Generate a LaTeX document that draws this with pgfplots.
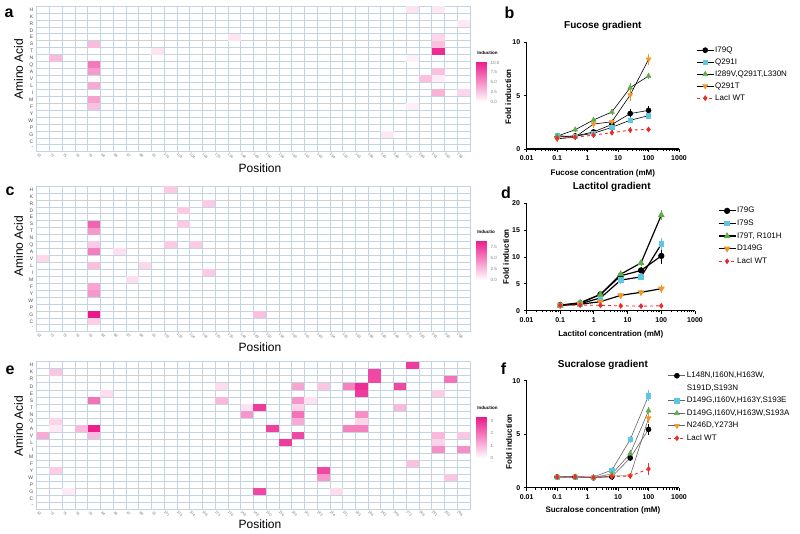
\documentclass[border=0pt]{standalone}
\usepackage{fontspec}
\setmainfont{Liberation Sans}
\setsansfont{Liberation Sans}
\usepackage{pgfplots}
\pgfplotsset{compat=1.18}
\definecolor{gridc}{RGB}{196,212,230}
\definecolor{cyanP}{RGB}{95,198,226}
\definecolor{greenP}{RGB}{95,172,72}
\definecolor{orangeP}{RGB}{243,150,42}
\definecolor{redP}{RGB}{232,45,45}
\pgfdeclareplotmark{hcell}{\pgfpathrectangle{\pgfqpoint{-6.4pt}{-3.5pt}}{\pgfqpoint{12.8pt}{7.0pt}}\pgfusepathqfill}
\pgfplotsset{
  hmap/.style={scale only axis, width=433.3pt,
    xmin=-0.5,xmax=33.5,ymin=-0.5,ymax=20.5,y dir=reverse,
    xtick={0,...,33},
    xticklabels={62,73,75,76,79,84,86,87,88,91,101,103,104,106,125,130,148,149,150,156,160,161,163,164,191,193,196,245,246,273,289,291,293,296},
    ytick={0,...,20},
    yticklabels={H,K,R,D,E,S,T,N,Q,A,V,L,I,M,F,Y,W,P,G,C,-},
    major tick length=0pt, minor tick length=0pt,
    minor xtick={-0.5,0.5,...,33.5}, minor ytick={-0.5,0.5,...,20.5},
    xminorgrids, yminorgrids,
    minor grid style={gridc,line width=0.6pt},
    axis line style={gridc,line width=0.6pt},
    axis on top,
    yticklabel style={font=\fontsize{5}{5}\selectfont, text=black!70},
    xticklabel style={font=\fontsize{3.6}{4}\selectfont, text=black!55, rotate=-40, anchor=center, yshift=-5.5pt},
    colormap={pk}{rgb255=(255,255,255) rgb255=(236,24,138)},
    point meta min=0,
  },
  cbar/.style={at={(parent axis.north east)}, anchor=north west, xshift=-2pt, width=10pt,
    axis line style={draw=none}, major tick length=0pt, tick style={draw=none},
    yticklabel style={font=\fontsize{4.5}{5}\selectfont, text=black!50, xshift=0.5pt,
      /pgf/number format/assume math mode=true},
    title style={font=\bfseries\fontsize{4.5}{5}\selectfont, at={(0,1)}, anchor=south west, inner sep=0.6pt},
  },
  hcells/.style={scatter, only marks, mark=hcell, scatter/use mapped color={draw=none, fill=mapped color}, point meta=explicit},
  prismax/.style={scale only axis, xmin=-2, xmax=3,
    xtick={-2,-1,0,1,2,3}, xticklabels={0.01,0.1,1,10,100,1000},
    minor xtick={-1.69897,-1.52288,-1.39794,-1.30103,-1.22185,-1.15490,-1.09691,-1.04576,
      -0.69897,-0.52288,-0.39794,-0.30103,-0.22185,-0.15490,-0.09691,-0.04576,
      0.30103,0.47712,0.60206,0.69897,0.77815,0.84510,0.90309,0.95424,
      1.30103,1.47712,1.60206,1.69897,1.77815,1.84510,1.90309,1.95424,
      2.30103,2.47712,2.60206,2.69897,2.77815,2.84510,2.90309,2.95424},
    xticklabel style={font=\bfseries\fontsize{7}{8}\selectfont},
    yticklabel style={font=\bfseries\fontsize{7}{8}\selectfont},
    xlabel style={font=\bfseries\fontsize{8}{9}\selectfont},
    ylabel style={font=\bfseries\fontsize{8}{9}\selectfont},
    title style={font=\bfseries\fontsize{10}{11}\selectfont},
    legend style={draw=none, fill=none, font=\fontsize{8}{9}\selectfont, anchor=north west, inner sep=0pt,
      nodes={inner sep=1pt, text height=6pt, text depth=2pt}, row sep=2pt},
    legend cell align=left,
    clip=false,
    axis line style={line width=1.1pt},
    tick style={black, line width=0.9pt}, major tick length=3pt, minor tick length=1.8pt,
  },
}
\begin{document}
\begin{tikzpicture}[x=1pt,y=1pt]
\path[use as bounding box] (0,0) rectangle (800,533);

% ---------- panel a ----------
\begin{axis}[hmap, at={(36.7pt,381.3pt)}, anchor=south west, height=145.7pt,
  point meta max=10.4, colorbar,
  colorbar style={cbar, yshift=-55pt, height=41pt, ytick={0,2.5,5,7.5,10},
    yticklabel style={/pgf/number format/fixed, /pgf/number format/fixed zerofill, /pgf/number format/precision=1},
    title={Induction}}]
\addplot[hcells] table[x=c,y=r,meta=v]{
c r v
1 7 3.0
4 5 3.0
4 8 6.0
4 9 4.5
4 11 3.8
4 13 4.2
4 14 2.8
9 6 1.2
15 4 1.2
27 18 1.0
29 0 1.2
29 7 0.6
29 14 0.7
31 0 1.0
31 4 1.8
31 5 2.8
31 6 9.5
31 9 2.8
31 10 0.8
31 12 3.5
30 10 2.8
33 2 1.0
33 12 1.8
};
\end{axis}

% ---------- panel c ----------
\begin{axis}[hmap, at={(36.7pt,201.3pt)}, anchor=south west, height=145.7pt,
  point meta max=9.0, colorbar,
  colorbar style={cbar, yshift=-54pt, height=40pt, ytick={0,2.5,5,7.5},
    yticklabel style={/pgf/number format/fixed, /pgf/number format/fixed zerofill, /pgf/number format/precision=1},
    title={Inductio}}]
\addplot[hcells] table[x=c,y=r,meta=v]{
c r v
0 10 1.5
4 5 6.0
4 6 4.0
4 8 2.0
4 9 5.0
4 11 2.5
4 14 3.5
4 15 4.0
4 18 9.0
4 19 1.8
6 9 1.2
7 13 1.2
8 11 1.5
10 0 2.0
10 8 2.0
11 3 2.0
11 5 2.0
12 8 2.0
13 2 2.0
13 12 2.0
17 18 2.5
};
\end{axis}

% ---------- panel e ----------
\begin{axis}[hmap, at={(36.7pt,23.7pt)}, anchor=south west, height=147.6pt,
  point meta max=3.33, colorbar,
  colorbar style={cbar, yshift=-55pt, height=41.7pt, ytick={0,1,2,3},
    title={Induction}}]
\addplot[hcells] table[x=c,y=r,meta=v]{
c r v
0 10 1.2
1 1 0.8
1 8 0.6
1 9 0.3
1 15 0.7
2 18 0.3
3 9 1.0
4 5 2.0
4 9 3.2
4 10 1.0
5 4 0.5
14 3 0.5
14 5 1.0
16 6 0.4
16 7 1.5
17 6 2.8
17 18 2.6
18 9 2.7
19 11 2.8
20 3 1.3
20 5 1.5
20 6 0.6
20 7 2.0
20 8 1.2
20 10 2.6
21 5 0.4
22 3 0.8
22 15 2.6
22 16 1.5
23 18 0.5
24 3 1.8
24 9 1.8
25 3 3.0
25 4 2.8
25 7 1.6
25 8 0.6
25 9 1.8
26 1 2.6
26 2 2.6
28 3 2.6
28 6 1.0
29 0 2.8
29 14 0.9
31 4 0.7
31 10 1.0
31 11 0.6
31 12 1.6
32 2 2.0
32 16 0.8
33 10 0.8
33 12 1.6
};
\end{axis}

% ---------- panel b ----------
\begin{axis}[prismax, at={(526.7pt,384pt)}, anchor=south west, width=152.3pt, height=106.7pt,
  ymin=0, ymax=10, ytick={0,5,10}, yticklabels={0,5,10},
  title={Fucose gradient}, title style={at={(axis description cs:0.5,1.153)}, anchor=center, yshift=-6pt},
  xlabel={Fucose concentration (mM)}, xlabel style={at={(axis description cs:0.5,-0.225)}, anchor=center},
  ylabel={Fold induction}, ylabel style={at={(axis description cs:-0.121,0.49)}, anchor=center},
  legend style={at={(axis description cs:1.112,0.975)}},
  axis lines*=left, tick align=outside]
\addplot[black, line width=0.6pt, mark=*, mark size=2.5pt, mark options={solid, fill=black, draw=black},
  error bars/.cd, y dir=both, y explicit, error bar style={black, line width=0.7pt}, error mark options={black, mark size=2pt, line width=0.7pt}]
  table[x=x,y=y,y error=e]{
x y e
-1 1.12 0.05
-0.40824 1.22 0.06
0.19382 1.60 0.10
0.79588 2.30 0.15
1.39794 3.32 0.22
2 3.62 0.18
};
\addlegendentry{I79Q}
\addplot[black, line width=0.6pt, mark=square*, mark size=2.2pt, mark options={solid, fill=cyanP, draw=cyanP},
  error bars/.cd, y dir=both, y explicit, error bar style={cyanP, line width=0.7pt}, error mark options={cyanP, mark size=2pt, line width=0.7pt}]
  table[x=x,y=y,y error=e]{
x y e
-1 1.22 0.04
-0.40824 1.20 0.05
0.19382 1.47 0.06
0.79588 2.03 0.08
1.39794 2.70 0.10
2 3.12 0.10
};
\addlegendentry{Q291I}
\addplot[black, line width=0.6pt, mark=triangle*, mark size=2.8pt, mark options={solid, fill=greenP, draw=greenP},
  error bars/.cd, y dir=both, y explicit, error bar style={greenP, line width=0.7pt}, error mark options={greenP, mark size=2pt, line width=0.7pt}]
  table[x=x,y=y,y error=e]{
x y e
-1 1.20 0.05
-0.40824 1.81 0.05
0.19382 2.72 0.08
0.79588 3.47 0.06
1.39794 5.75 0.22
2 6.84 0.10
};
\addlegendentry{I289V,Q291T,L330N}
\addplot[black, line width=0.6pt, mark=triangle*, mark size=2.8pt, mark options={solid, fill=orangeP, draw=orangeP, rotate=180},
  error bars/.cd, y dir=both, y explicit, error bar style={orangeP, line width=0.7pt}, error mark options={orangeP, mark size=2pt, line width=0.7pt}]
  table[x=x,y=y,y error=e]{
x y e
-1 0.95 0.08
-0.40824 1.12 0.05
0.19382 2.34 0.20
0.79588 2.55 0.10
1.39794 5.06 0.35
2 8.40 0.30
};
\addlegendentry{Q291T}
\addplot[redP, line width=0.9pt, dashed, mark=diamond*, mark size=2.2pt, mark options={solid, fill=redP, draw=redP},
  error bars/.cd, y dir=both, y explicit, error bar style={redP, solid, line width=0.7pt}, error mark options={redP, solid, mark size=2pt, line width=0.7pt}]
  table[x=x,y=y,y error=e]{
x y e
-1 1.00 0.03
-0.40824 1.10 0.03
0.19382 1.30 0.05
0.79588 1.53 0.05
1.39794 1.77 0.06
2 1.83 0.05
};
\addlegendentry{LacI WT}
\end{axis}

% ---------- panel d ----------
\begin{axis}[prismax, at={(526.5pt,222.3pt)}, anchor=south west, width=168.5pt, height=107.4pt,
  ymin=0, ymax=20, ytick={0,5,10,15,20}, yticklabels={0,5,10,15,20},
  title={Lactitol gradient}, title style={at={(axis description cs:0.506,1.149)}, anchor=center, yshift=-6pt},
  xlabel={Lactitol concentration (mM)}, xlabel style={at={(axis description cs:0.5,-0.217)}, anchor=center},
  ylabel={Fold induction}, ylabel style={at={(axis description cs:-0.122,0.503)}, anchor=center},
  legend style={at={(axis description cs:1.135,0.978)}, row sep=2.6pt},
  axis lines*=left, tick align=outside]
\addplot[black, line width=1.2pt, mark=*, mark size=2.5pt, mark options={solid, fill=black, draw=black},
  error bars/.cd, y dir=both, y explicit, error bar style={black, line width=0.7pt}, error mark options={black, mark size=2pt, line width=0.7pt}]
  table[x=x,y=y,y error=e]{
x y e
-1 1.05 0.05
-0.40824 1.40 0.08
0.19382 3.05 0.12
0.79588 6.50 0.20
1.39794 7.50 0.20
2 10.2 1.20
};
\addlegendentry{I79G}
\addplot[black, line width=1.2pt, mark=square*, mark size=2.2pt, mark options={solid, fill=cyanP, draw=cyanP},
  error bars/.cd, y dir=both, y explicit, error bar style={cyanP, line width=0.7pt}, error mark options={cyanP, mark size=2pt, line width=0.7pt}]
  table[x=x,y=y,y error=e]{
x y e
-1 1.00 0.05
-0.40824 1.30 0.05
0.19382 2.37 0.15
0.79588 5.70 0.30
1.39794 6.30 0.25
2 12.4 0.75
};
\addlegendentry{I79S}
\addplot[black, line width=1.2pt, mark=triangle*, mark size=2.8pt, mark options={solid, fill=greenP, draw=greenP},
  error bars/.cd, y dir=both, y explicit, error bar style={greenP, line width=0.7pt}, error mark options={greenP, mark size=2pt, line width=0.7pt}]
  table[x=x,y=y,y error=e]{
x y e
-1 1.00 0.05
-0.40824 1.50 0.05
0.19382 3.00 0.10
0.79588 6.80 0.20
1.39794 8.90 0.20
2 17.8 0.55
};
\addlegendentry{I79T, R101H}
\addplot[black, line width=1.2pt, mark=triangle*, mark size=2.8pt, mark options={solid, fill=orangeP, draw=orangeP, rotate=180},
  error bars/.cd, y dir=both, y explicit, error bar style={orangeP, line width=0.7pt}, error mark options={orangeP, mark size=2pt, line width=0.7pt}]
  table[x=x,y=y,y error=e]{
x y e
-1 1.00 0.05
-0.40824 1.20 0.05
0.19382 1.68 0.10
0.79588 2.86 0.10
1.39794 3.42 0.10
2 4.10 0.35
};
\addlegendentry{D149G}
\addplot[redP, line width=0.9pt, dashed, mark=diamond*, mark size=2.2pt, mark options={solid, fill=redP, draw=redP},
  error bars/.cd, y dir=both, y explicit, error bar style={redP, solid, line width=0.7pt}, error mark options={redP, solid, mark size=2pt, line width=0.7pt}]
  table[x=x,y=y,y error=e]{
x y e
-1 1.00 0.05
-0.40824 1.05 0.05
0.19382 1.00 0.05
0.79588 0.90 0.05
1.39794 0.85 0.05
2 0.90 0.05
};
\addlegendentry{LacI WT}
\end{axis}

% ---------- panel f ----------
\begin{axis}[prismax, at={(526.7pt,45.3pt)}, anchor=south west, width=152.3pt, height=107pt,
  ymin=0, ymax=10, ytick={0,5,10}, yticklabels={0,5,10},
  title={Sucralose gradient}, title style={at={(axis description cs:0.5,1.147)}, anchor=center, yshift=-6pt},
  xlabel={Sucralose concentration (mM)}, xlabel style={at={(axis description cs:0.5,-0.208)}, anchor=center},
  ylabel={Fold induction}, ylabel style={at={(axis description cs:-0.116,0.43)}, anchor=center},
  legend style={at={(axis description cs:0.926,1.095)}, row sep=2.5pt},
  axis lines*=left, tick align=outside]
\addplot[black!60, line width=0.6pt, mark=*, mark size=2.5pt, mark options={solid, fill=black, draw=black},
  error bars/.cd, y dir=both, y explicit, error bar style={black, line width=0.7pt}, error mark options={black, mark size=2pt, line width=0.7pt}]
  table[x=x,y=y,y error=e]{
x y e
-1 1.00 0.05
-0.40824 1.00 0.05
0.19382 0.92 0.05
0.79588 1.02 0.08
1.39794 2.78 0.10
2 5.45 0.30
};
\addlegendentry{L148N,I160N,H163W,}
\addlegendimage{empty legend}
\addlegendentry{S191D,S193N}
\addplot[black!60, line width=0.6pt, mark=square*, mark size=2.2pt, mark options={solid, fill=cyanP, draw=cyanP},
  error bars/.cd, y dir=both, y explicit, error bar style={cyanP, line width=0.7pt}, error mark options={cyanP, mark size=2pt, line width=0.7pt}]
  table[x=x,y=y,y error=e]{
x y e
-1 1.00 0.05
-0.40824 1.00 0.05
0.19382 1.00 0.05
0.79588 1.65 0.10
1.39794 4.50 0.15
2 8.60 0.30
};
\addlegendentry{D149G,I160V,H163Y,S193E}
\addplot[black!60, line width=0.6pt, mark=triangle*, mark size=2.8pt, mark options={solid, fill=greenP, draw=greenP},
  error bars/.cd, y dir=both, y explicit, error bar style={greenP, line width=0.7pt}, error mark options={greenP, mark size=2pt, line width=0.7pt}]
  table[x=x,y=y,y error=e]{
x y e
-1 1.00 0.05
-0.40824 1.00 0.05
0.19382 0.95 0.05
0.79588 1.28 0.08
1.39794 3.18 0.12
2 7.20 0.15
};
\addlegendentry{D149G,I160V,H163W,S193A}
\addplot[black!60, line width=0.6pt, mark=triangle*, mark size=2.8pt, mark options={solid, fill=orangeP, draw=orangeP, rotate=180},
  error bars/.cd, y dir=both, y explicit, error bar style={orangeP, line width=0.7pt}, error mark options={orangeP, mark size=2pt, line width=0.7pt}]
  table[x=x,y=y,y error=e]{
x y e
-1 1.00 0.05
-0.40824 1.05 0.05
0.19382 0.95 0.05
0.79588 1.10 0.05
1.39794 1.10 0.05
2 6.50 0.30
};
\addlegendentry{N246D,Y273H}
\addplot[redP, line width=0.9pt, dashed, mark=diamond*, mark size=2.2pt, mark options={solid, fill=redP, draw=redP},
  error bars/.cd, y dir=both, y explicit, error bar style={redP, solid, line width=0.7pt}, error mark options={redP, solid, mark size=2pt, line width=0.7pt}]
  table[x=x,y=y,y error=e]{
x y e
-1 1.00 0.03
-0.40824 1.00 0.03
0.19382 0.95 0.03
0.79588 1.05 0.05
1.39794 1.10 0.05
2 1.75 0.35
};
\addlegendentry{LacI WT}
\end{axis}

% ---------- text ----------
\begin{scope}[every node/.style={inner sep=0pt}]
\node[font=\bfseries\fontsize{16}{16}\selectfont] at (9,520) {a};
\node[font=\bfseries\fontsize{16}{16}\selectfont] at (10,341.5) {c};
\node[font=\bfseries\fontsize{16}{16}\selectfont] at (10,163) {e};
\node[font=\bfseries\fontsize{16}{16}\selectfont] at (509.5,520.5) {b};
\node[font=\bfseries\fontsize{16}{16}\selectfont] at (506,340) {d};
\node[font=\bfseries\fontsize{16}{16}\selectfont] at (503.5,164.5) {f};
\node[font=\fontsize{12}{12}\selectfont, rotate=90] at (18.7,464) {Amino Acid};
\node[font=\fontsize{12}{12}\selectfont, rotate=90] at (18.7,287) {Amino Acid};
\node[font=\fontsize{12}{12}\selectfont, rotate=90] at (18.7,107) {Amino Acid};
\node[font=\fontsize{12}{12}\selectfont] at (260,365) {Position};
\node[font=\fontsize{12}{12}\selectfont] at (260,185.5) {Position};
\node[font=\fontsize{12}{12}\selectfont] at (260,9) {Position};
\end{scope}
\end{tikzpicture}
\end{document}
